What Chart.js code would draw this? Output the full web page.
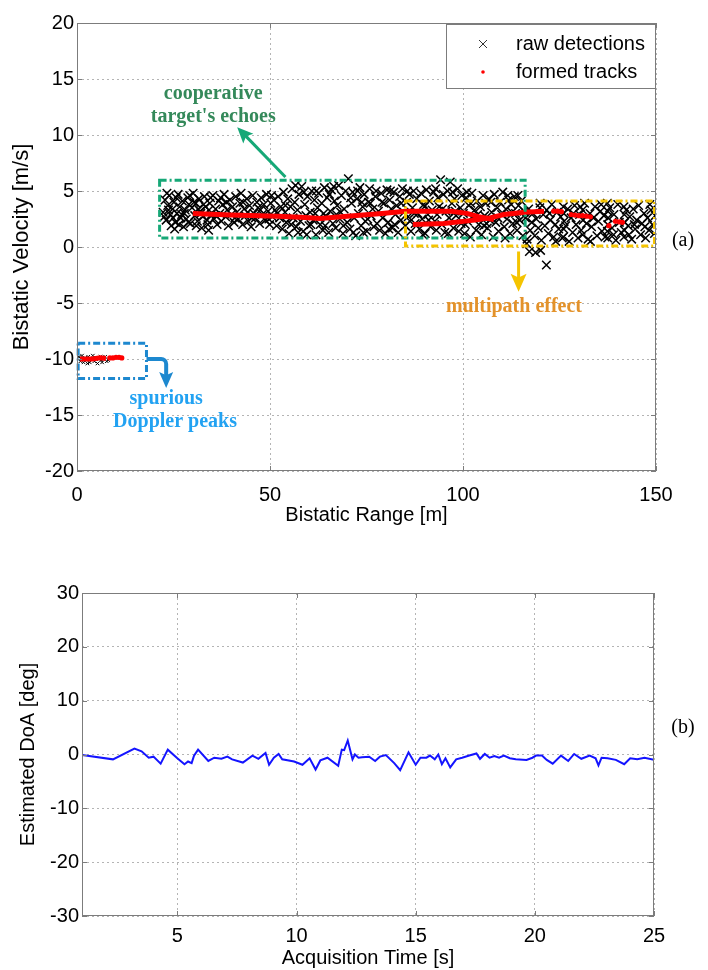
<!DOCTYPE html>
<html>
<head>
<meta charset="utf-8">
<script src="https://cdn.jsdelivr.net/npm/chart.js@4.4.0/dist/chart.umd.min.js"></script>
<style>
body { margin: 0; background: #fff; width: 708px; height: 970px; position: relative; overflow: hidden; }
.panel { position: absolute; left: 0; width: 708px; }
#panelA { top: 0; height: 540px; }
#panelB { top: 560px; height: 410px; }
</style>
</head>
<body>
<div class="panel" id="panelA"><canvas id="chartA"></canvas></div>
<div class="panel" id="panelB"><canvas id="chartB"></canvas></div>
<script>
// Axis ticks
const rangeTicks = [0, 50, 100, 150];
const velocityTicks = [-20, -15, -10, -5, 0, 5, 10, 15, 20];
const timeTicks = [5, 10, 15, 20, 25];
const doaTicks = [-30, -20, -10, 0, 10, 20, 30];

// Raw detections [range m, velocity m/s]
const rawDetections = [
	[22.3,3.1],[22.8,4.2],[23.1,2.4],[23.5,3.7],[23.9,4.6],[24.2,2.9],[24.4,1.9],[24.8,3.4],[25.1,4.0],[25.5,2.2],[25.9,3.0],[26.2,4.7],[26.6,3.6],[26.9,2.6],[27.3,4.1],[27.6,1.8],[28.0,3.3],[28.3,2.5],[28.7,4.4],[29.0,3.8],[29.4,2.1],[29.8,3.5],[30.1,4.8],[30.5,2.8],[30.8,3.9],[31.2,2.3],[31.6,4.3],[31.9,3.2],[32.3,1.7],[32.6,2.7],[33.0,4.5],[33.3,3.6],[33.7,2.4],[34.1,1.5],[34.4,3.9],[34.8,2.9],[22.6,2.7],[23.7,3.3],[24.9,2.6],[25.7,4.4],[26.4,2.0],[27.8,3.0],[28.9,2.2],[30.3,4.0],[31.4,3.4],[32.8,3.8],[33.9,2.0],[34.6,4.4],[23.3,4.8],[25.3,1.6],[27.1,2.9],[29.2,4.6],[30.9,1.9],[32.1,3.0],[34.2,3.3],
	[35.2,4.6],[35.5,2.5],[35.9,3.4],[36.3,2.0],[36.7,4.1],[37.0,3.0],[37.4,2.3],[37.8,3.8],[38.1,4.7],[38.5,2.7],[38.9,3.3],[39.2,1.9],[39.6,4.2],[40.0,2.9],[40.3,3.6],[40.7,2.2],[41.1,4.5],[41.4,3.1],[41.8,2.5],[42.2,3.9],[42.5,4.8],[42.9,2.0],[43.3,3.4],[43.6,2.8],[44.0,4.3],[44.4,2.3],[44.7,3.7],[45.1,1.8],[45.5,4.6],[45.8,3.0],[46.2,2.6],[46.6,4.0],[46.9,3.5],[47.3,2.1],[47.7,4.4],[48.0,2.9],[48.4,3.8],[48.8,2.4],[49.1,4.7],[49.5,3.2],[49.9,2.0],[50.2,3.9],[50.6,2.7],[51.0,4.2],[51.3,3.3],[51.7,1.9],[52.1,4.5],[52.5,2.6],[52.8,3.6],[36.0,2.8],[38.7,4.0],[40.9,2.6],[43.0,4.0],[45.3,2.6],[47.5,3.3],[49.7,2.5],[51.9,3.0],[37.2,4.4],[44.2,3.1],[50.4,4.6],
	[53.2,1.6],[53.5,4.9],[53.9,3.1],[54.2,2.2],[54.6,4.3],[54.9,1.2],[55.3,3.6],[55.7,5.2],[56.0,2.6],[56.4,4.0],[56.8,1.8],[57.1,3.3],[57.5,4.7],[57.9,2.3],[58.2,5.4],[58.6,1.4],[59.0,3.8],[59.3,2.8],[59.7,4.5],[60.1,1.9],[60.4,3.1],[60.8,5.0],[61.2,2.4],[61.5,4.2],[61.9,1.1],[62.3,3.5],[62.6,4.8],[63.0,2.0],[63.4,3.9],[63.7,1.5],[64.1,5.3],[64.5,2.7],[64.8,4.4],[65.2,1.3],[65.6,3.2],[65.9,5.1],[66.3,2.1],[66.7,4.1],[67.0,1.7],[67.4,3.7],[67.8,5.5],[68.1,2.5],[68.5,4.6],[68.9,1.2],[69.2,3.4],[69.6,5.0],[70.0,2.2],[70.3,6.1],[70.7,1.6],[71.1,3.9],[71.4,4.9],[71.8,2.6],[72.2,1.0],[72.5,4.3],[72.9,3.0],[73.3,5.3],[73.6,1.9],[74.0,3.6],[74.4,4.7],[74.7,2.3],[75.1,1.4],[75.5,4.0],[75.8,5.2],[76.2,2.8],[76.6,3.4],[76.9,1.8],[77.3,4.5],[77.7,2.1],[54.0,3.7],[55.5,2.0],[57.3,1.3],[58.8,4.9],[60.6,2.0],[62.0,5.0],[63.9,3.0],[65.4,4.7],[67.2,2.9],[69.0,1.9],[70.9,4.4],[72.7,5.0],[74.2,1.3],[76.0,3.9],[77.5,5.0],[56.6,5.5],[59.5,1.1],[61.7,3.0],[64.3,1.9],[66.5,5.4],[68.3,3.1],[71.6,1.3],[73.8,4.0],[75.3,2.5],
	[78.1,3.2],[78.4,1.5],[78.8,4.8],[79.2,2.6],[79.5,3.9],[79.9,1.2],[80.3,5.1],[80.6,2.2],[81.0,4.2],[81.4,3.4],[81.7,1.7],[82.1,4.9],[82.5,2.9],[82.8,3.7],[83.2,1.3],[83.6,4.5],[83.9,2.4],[84.3,5.2],[84.7,3.1],[85.0,1.9],[85.4,4.0],[85.8,2.7],[86.1,4.7],[86.5,1.4],[86.9,3.5],[87.2,5.0],[87.6,2.1],[88.0,4.3],[88.3,3.0],[88.7,1.6],[89.1,4.8],[89.4,2.5],[89.8,3.8],[90.2,1.2],[90.5,5.1],[90.9,2.9],[91.3,4.1],[91.6,1.8],[92.0,3.3],[92.4,4.9],[92.7,2.3],[93.1,1.5],[93.5,4.4],[93.8,3.6],[94.2,6.0],[94.5,2.0],[94.9,4.7],[95.3,1.3],[95.6,3.2],[96.0,5.0],[96.4,2.6],[96.7,5.8],[97.1,3.9],[97.5,1.7],[97.8,4.3],[98.2,2.8],[98.6,5.2],[98.9,1.4],[99.3,3.5],[99.7,4.6],[79.0,4.0],[80.8,1.6],[82.3,2.0],[84.0,3.9],[85.6,5.0],[87.4,3.0],[89.6,1.1],[91.1,2.4],[92.9,5.2],[94.7,3.4],[96.2,1.2],[98.0,3.2],[99.5,2.1],[81.2,5.0],[86.3,2.3],[90.0,3.6],[93.3,2.9],[97.3,4.9],
	[100.1,3.0],[100.4,1.2],[100.8,4.4],[101.2,2.3],[101.5,3.7],[101.9,0.9],[102.3,4.8],[102.6,2.6],[103.0,3.3],[103.4,1.5],[103.7,4.1],[104.1,2.0],[104.5,3.6],[104.8,1.1],[105.2,4.6],[105.6,2.8],[105.9,3.9],[106.3,1.7],[106.7,4.3],[107.0,2.4],[107.4,3.1],[107.8,0.9],[108.1,4.7],[108.5,2.2],[108.9,3.5],[109.2,1.4],[109.6,4.0],[110.0,2.9],[110.3,4.9],[110.7,1.8],[111.1,3.4],[111.4,2.5],[111.8,4.2],[112.2,1.2],[112.5,3.8],[112.9,2.1],[113.3,4.5],[113.6,3.0],[114.0,1.5],[114.4,3.7],[114.7,2.4],[115.1,4.1],[115.5,1.0],[115.8,3.2],[100.6,2.0],[102.0,3.9],[103.8,2.9],[105.4,1.9],[107.2,4.0],[109.0,2.6],[110.9,0.8],[112.7,3.1],[114.2,4.6],[101.0,4.9],[106.1,2.1],[111.6,4.6],[113.9,2.2],
	[116.2,2.6],[116.6,0.7],[117.0,3.4],[117.4,1.5],[117.8,2.2],[118.1,3.0],[118.6,1.0],[119.0,2.5],[119.5,1.7],[119.9,3.5],[120.3,0.6],[120.8,2.9],[121.2,1.9],[121.7,3.3],[122.1,1.2],[122.6,2.4],[123.0,3.8],[123.5,0.9],[123.9,2.0],[124.4,3.1],[124.8,1.6],[125.3,2.7],[125.7,0.8],[126.0,3.6],[126.1,3.0],[126.2,2.3],[126.1,1.6],[126.0,0.9],[126.6,1.9],[127.1,3.4],[127.5,0.5],[128.0,2.6],[128.4,1.3],[128.9,3.7],[129.3,2.0],[129.8,0.8],[130.2,2.9],[130.6,1.5],[131.0,3.3],[131.1,2.4],[131.0,1.1],[131.5,3.9],[132.0,2.1],[132.4,0.7],[132.9,3.0],[133.3,1.8],[133.8,2.6],[134.2,3.6],[134.7,1.0],[135.1,2.3],[135.6,3.2],[136.0,1.4],[136.5,2.8],[137.4,3.9],[137.5,3.2],[137.6,2.6],[137.5,2.0],[137.4,1.4],[137.5,0.8],[138.0,3.5],[138.6,1.7],[139.1,2.9],[139.6,0.6],[140.1,3.8],[140.5,2.2],[141.0,1.3],[141.7,3.6],[141.8,2.9],[141.9,2.2],[141.8,1.5],[141.7,0.9],[142.3,3.3],[142.8,1.9],[143.2,2.7],[143.7,0.7],[144.1,3.4],[144.6,1.6],[145.0,2.4],[145.5,3.7],[146.0,1.1],[146.4,2.1],[146.9,3.0],[147.3,0.8],[147.8,2.6],[148.2,1.5],[148.7,3.3],[149.1,2.0],[149.6,1.2],[149.8,2.8],[120.0,3.9],[124.0,0.5],[128.6,3.0],[133.0,0.5],[135.8,3.8],[139.0,1.1],[144.4,2.0],[148.4,3.8],[122.4,3.0],[130.4,3.6],[136.8,0.9],[143.0,1.1],[147.1,1.8],
	[116.5,0.3],[117.2,-0.4],[118.8,-0.5],[120.1,-0.3],[121.6,-1.6]
];

// Small detections at the spurious Doppler line
const spuriousDetections = [
	[0.5,-9.8],[0.9,-10.2],[1.3,-9.7],[1.7,-10.3],[2.1,-9.9],[2.5,-10.1],[2.9,-9.8],[3.3,-10.3],[3.7,-10.0],[4.1,-9.7],[4.5,-10.2],[4.9,-9.9],[5.3,-10.4],[5.7,-10.0],[6.1,-9.8],[6.5,-10.3],[6.9,-10.0],[7.3,-9.8],[7.7,-10.2],[8.1,-10.1],[8.5,-9.9],[1.1,-10.0],[2.7,-10.4],[4.3,-10.0],[6.3,-10.1]
];

// Formed tracks
const trackMain = [[30,3.0],[40,2.85],[52,2.75],[58,2.65],[63,2.55],[70,2.75],[79,3.0],[85,3.2],[97,3.2],[101,3.0],[104,2.7],[108,2.45]];
const trackMultipath = [[87,2.0],[95,2.1],[103,2.4],[107,2.6],[110.6,2.9],[116,3.1],[121,3.2]];
const trackFragments = [[123.5,3.2],[124.5,3.2],[125.5,3.15],[128,2.9],[129,2.85],[130,2.8],[131,2.8],[132,2.75],[133,2.7],[137.8,1.9],[139.5,2.3],[140.5,2.25],[141.3,2.2]];
const trackSpurious = [[0.8,-10.0],[4,-10.0],[6,-9.9],[7.5,-9.95]];
const spuriousFragments = [[8.5,-9.9],[9.3,-9.9],[10.1,-9.85],[10.9,-9.85],[11.6,-9.9]];

// Estimated DoA [time s, deg]
const doaSamples = [
	[1,-0.1],[2.3,-0.9],[3.2,1.1],[3.5,0.6],[3.8,-0.6],[4.0,-0.4],[4.3,-1.7],[4.6,0.9],[5.0,-0.7],[5.3,-1.8],[5.45,-1.3],[5.6,-1.6],[5.7,-0.2],[5.87,0.9],
	[6.3,-1.2],[6.55,-0.6],[6.85,-0.8],[7.1,-0.4],[7.3,-0.9],[7.75,-1.5],[8.15,-0.2],[8.4,-0.8],[8.7,0.3],[8.85,-1.9],[9.05,-0.6],[9.25,0.1],[9.4,-0.9],
	[9.9,-1.3],[10.25,-1.9],[10.55,-0.7],[10.8,-2.8],[11.0,-1.1],[11.3,-0.6],[11.75,-2.1],[11.9,0.9],[12.0,0.8],[12.15,2.6],[12.35,-0.9],[12.45,0.0],[12.6,-0.6],
	[12.75,-0.5],[13.05,-0.4],[13.3,-1.2],[13.5,-0.4],[13.75,-0.1],[14.1,-1.6],[14.35,-2.9],[14.7,0.4],[15.0,-1.9],[15.2,-0.6],[15.45,-0.6],[15.6,-0.2],
	[15.8,-0.9],[15.95,0.0],[16.1,-1.8],[16.25,-0.7],[16.45,-2.4],[16.7,-0.9],[16.95,-0.6],[17.25,-0.2],[17.55,0.2],[17.7,-0.8],[17.9,0.1],[18.1,-0.6],
	[18.3,-0.3],[18.5,-0.6],[18.7,-0.2],[18.95,-0.7],[19.2,-0.9],[19.65,-1.0],[19.9,-0.6],[20.05,-0.2],[20.3,-0.2],[20.5,-1.0],[20.75,-1.7],[21.1,-0.2],
	[21.4,-1.2],[21.65,0.1],[21.95,-0.8],[22.3,-0.2],[22.55,-0.7],[22.67,-2.0],[22.8,-0.6],[23.05,-0.7],[23.4,-1.0],[23.75,-1.8],[24.0,-0.7],[24.3,-0.9],
	[24.6,-0.6],[25,-1.0]
];

const sans = '"Liberation Sans", Arial, sans-serif';
const serif = '"Liberation Serif", "Times New Roman", serif';
const toXY = arr => arr.map(([x, y]) => ({ x, y }));

function fixedTicks(list) {
	return scale => { scale.ticks = list.map(v => ({ value: v })); };
}

function axis(min, max, ticks, title, extra) {
	return Object.assign({
		type: 'linear', min, max,
		afterBuildTicks: fixedTicks(ticks),
		grid: { color: '#b4b4b4', drawTicks: false, lineWidth: 1 },
		border: { display: false, dash: [2, 3] },
		ticks: { color: '#000', font: { family: sans, size: 20 } },
		title: { display: true, text: title, color: '#000', font: { family: sans, size: 20 } }
	}, extra);
}

// Box around the plot with inward tick marks
const framePlugin = {
	id: 'frame',
	afterDraw(chart) {
		const { ctx, chartArea: a, scales: { x, y } } = chart;
		ctx.save();
		ctx.strokeStyle = '#7c7c7c';
		ctx.lineWidth = 1;
		ctx.strokeRect(a.left + 0.5, a.top + 0.5, a.right - a.left - 1, a.bottom - a.top - 1);
		ctx.beginPath();
		x.ticks.forEach(t => {
			const p = Math.round(x.getPixelForValue(t.value)) + 0.5;
			ctx.moveTo(p, a.bottom); ctx.lineTo(p, a.bottom - 5);
			ctx.moveTo(p, a.top); ctx.lineTo(p, a.top + 5);
		});
		y.ticks.forEach(t => {
			const p = Math.round(y.getPixelForValue(t.value)) + 0.5;
			ctx.moveTo(a.left, p); ctx.lineTo(a.left + 5, p);
			ctx.moveTo(a.right, p); ctx.lineTo(a.right - 5, p);
		});
		ctx.stroke();
		ctx.restore();
	}
};

function drawArrowHead(ctx, tx, ty, angle, len, width, color) {
	ctx.save();
	ctx.translate(tx, ty);
	ctx.rotate(angle);
	ctx.fillStyle = color;
	ctx.beginPath();
	ctx.moveTo(0, 0);
	ctx.lineTo(-len, -width / 2);
	ctx.lineTo(-len * 0.8, 0);
	ctx.lineTo(-len, width / 2);
	ctx.closePath();
	ctx.fill();
	ctx.restore();
}

// Coloured boxes, arrows and notes of panel (a)
const notesPlugin = {
	id: 'notes',
	afterDatasetsDraw(chart) {
		const { ctx, scales: { x, y } } = chart;
		const px = v => x.getPixelForValue(v);
		const py = v => y.getPixelForValue(v);
		const box = (x0, y0, x1, y1, color) => {
			ctx.strokeStyle = color;
			ctx.lineWidth = 3;
			ctx.setLineDash([7, 3, 2, 3]);
			ctx.strokeRect(px(x0), py(y1), px(x1) - px(x0), py(y0) - py(y1));
			ctx.setLineDash([]);
		};
		ctx.save();
		box(21.4, 0.8, 116.1, 5.95, '#16a877');
		box(85.1, 0.1, 149.6, 4.1, '#f5c400');
		box(0.3, -11.75, 18, -8.6, '#1d88cf');

		// green arrow
		let x1 = px(54), y1 = py(6.25), x2 = px(41.5), y2 = py(10.7);
		let ang = Math.atan2(y2 - y1, x2 - x1);
		ctx.strokeStyle = '#16a877';
		ctx.lineWidth = 3;
		ctx.beginPath();
		ctx.moveTo(x1, y1);
		ctx.lineTo(x2 - Math.cos(ang) * 10, y2 - Math.sin(ang) * 10);
		ctx.stroke();
		drawArrowHead(ctx, x2, y2, ang, 16, 14, '#16a877');

		// yellow arrow
		x1 = px(114.4); y1 = py(-0.4); y2 = py(-4.0);
		ctx.strokeStyle = '#f5c400';
		ctx.lineWidth = 3;
		ctx.beginPath();
		ctx.moveTo(x1, y1);
		ctx.lineTo(x1, y2 - 12);
		ctx.stroke();
		drawArrowHead(ctx, x1, y2, Math.PI / 2, 18, 16, '#f5c400');

		// blue arrow
		x1 = px(18); y1 = py(-10.0); x2 = px(23.1); y2 = py(-12.6);
		ctx.strokeStyle = '#1d88cf';
		ctx.lineWidth = 4;
		ctx.beginPath();
		ctx.moveTo(x1, y1);
		ctx.arcTo(x2, y1, x2, y2, 5);
		ctx.lineTo(x2, y2 - 12);
		ctx.stroke();
		drawArrowHead(ctx, x2, y2, Math.PI / 2, 16, 14, '#1d88cf');

		// notes
		ctx.font = 'bold 20px ' + serif;
		ctx.textAlign = 'center';
		ctx.textBaseline = 'middle';
		ctx.fillStyle = '#34895a';
		ctx.fillText('cooperative', px(35.3), py(13.65));
		ctx.fillText("target's echoes", px(35.3), py(11.6));
		ctx.fillStyle = '#e3922a';
		ctx.fillText('multipath effect', px(113.2), py(-5.35));
		ctx.fillStyle = '#22a2f2';
		ctx.fillText('spurious', px(23.1), py(-13.6));
		ctx.fillText('Doppler peaks', px(25.4), py(-15.6));
		ctx.restore();
	},
	afterDraw(chart) {
		const { ctx, chartArea: a } = chart;
		ctx.save();
		// legend box
		const left = a.right - 210, top = a.top + 1, w = 209, h = 64;
		ctx.fillStyle = '#fff';
		ctx.fillRect(left, top, w, h);
		ctx.strokeStyle = '#7c7c7c';
		ctx.lineWidth = 1;
		ctx.strokeRect(left + 0.5, top + 0.5, w, h);
		ctx.strokeStyle = '#333';
		ctx.beginPath();
		ctx.moveTo(left + 33, top + 16); ctx.lineTo(left + 41, top + 24);
		ctx.moveTo(left + 41, top + 16); ctx.lineTo(left + 33, top + 24);
		ctx.stroke();
		ctx.fillStyle = '#ff0000';
		ctx.beginPath();
		ctx.arc(left + 37, top + 48, 1.8, 0, Math.PI * 2);
		ctx.fill();
		ctx.fillStyle = '#000';
		ctx.font = '20px ' + sans;
		ctx.textBaseline = 'middle';
		ctx.fillText(chart.data.datasets[0].label, left + 70, top + 20);
		ctx.fillText(chart.data.datasets[2].label, left + 70, top + 48);
		// panel tag
		ctx.font = '20px ' + serif;
		ctx.textAlign = 'center';
		ctx.fillText('(a)', 683, 241);
		ctx.restore();
	}
};

const redLine = data => ({
	label: 'formed tracks', data: toXY(data), showLine: true,
	borderColor: '#ff0000', borderWidth: 5, pointRadius: 0, order: 0
});

new Chart(document.getElementById('chartA'), {
	type: 'scatter',
	data: {
		datasets: [
			{ label: 'raw detections', data: toXY(rawDetections), pointStyle: 'crossRot', pointRadius: 6,
				borderColor: '#000', borderWidth: 1.5, backgroundColor: 'transparent', order: 2 },
			{ label: 'raw detections', data: toXY(spuriousDetections), pointStyle: 'crossRot', pointRadius: 2.5,
				borderColor: '#000', borderWidth: 1, order: 2 },
			redLine(trackMain),
			redLine(trackMultipath),
			redLine(trackSpurious),
			{ label: 'formed tracks', data: toXY(trackFragments), pointRadius: 2.6, pointBorderWidth: 0,
				backgroundColor: '#ff0000', borderColor: '#ff0000', order: 0 },
			{ label: 'formed tracks', data: toXY(spuriousFragments), pointRadius: 2.6, pointBorderWidth: 0,
				backgroundColor: '#ff0000', borderColor: '#ff0000', order: 0 }
		]
	},
	options: {
		responsive: true,
		maintainAspectRatio: false,
		animation: false,
		layout: { padding: { top: 23, right: 52, left: 0, bottom: 0 } },
		plugins: { legend: { display: false }, tooltip: { enabled: false } },
		scales: {
			x: axis(0, 150, rangeTicks, 'Bistatic Range [m]', {
				afterFit: s => { s.height = 69; }
			}),
			y: axis(-20, 20, velocityTicks, 'Bistatic Velocity [m/s]', {
				afterFit: s => { s.width = 77; }
			})
		}
	},
	plugins: [framePlugin, notesPlugin]
});

// axis text placement tweaks
const cA = Chart.getChart('chartA');
cA.options.scales.x.ticks.padding = 12;
cA.options.scales.x.title.padding = { top: 4, bottom: 13 };
cA.options.scales.y.title.font = { family: sans, size: 22 };
cA.options.scales.y.title.padding = { top: 9, bottom: 4 };
cA.update();

const tagPlugin = {
	id: 'tag',
	afterDraw(chart) {
		const { ctx } = chart;
		ctx.save();
		ctx.font = '20px ' + serif;
		ctx.textAlign = 'center';
		ctx.textBaseline = 'middle';
		ctx.fillStyle = '#000';
		ctx.fillText('(b)', 683, 168);
		ctx.restore();
	}
};

new Chart(document.getElementById('chartB'), {
	type: 'scatter',
	data: {
		datasets: [{
			label: 'Estimated DoA', data: toXY(doaSamples), showLine: true,
			borderColor: '#1414ff', borderWidth: 2, pointRadius: 0
		}]
	},
	options: {
		responsive: true,
		maintainAspectRatio: false,
		animation: false,
		layout: { padding: { top: 33, right: 54, left: 0, bottom: 0 } },
		plugins: { legend: { display: false }, tooltip: { enabled: false } },
		scales: {
			x: axis(1, 25, timeTicks, 'Acquisition Time [s]', {
				afterFit: s => { s.height = 54; }
			}),
			y: axis(-30, 30, doaTicks, 'Estimated DoA [deg]', {
				afterFit: s => { s.width = 82; }
			})
		}
	},
	plugins: [framePlugin, tagPlugin]
});

const cB = Chart.getChart('chartB');
cB.options.scales.x.ticks.padding = 8;
cB.options.scales.x.title.padding = { top: 4, bottom: 0 };
cB.options.scales.y.title.padding = { top: 16, bottom: 4 };
cB.update();
</script>
</body>
</html>
